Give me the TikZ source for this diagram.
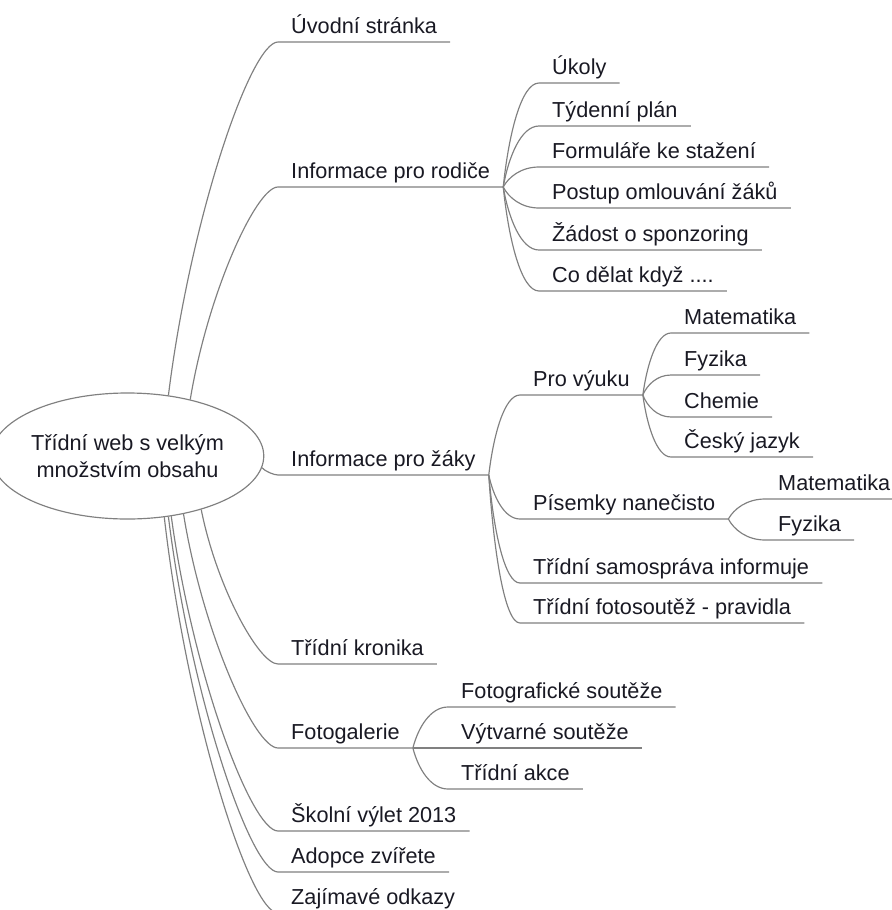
\documentclass[tikz,border=0pt]{standalone}
\usepackage{fontspec}
\setmainfont{Liberation Sans}
\usepackage{xcolor}
\usetikzlibrary{shapes.geometric,calc}

\definecolor{linegray}{RGB}{128,128,128}
\definecolor{ink}{RGB}{25,25,35}

\tikzset{
    leaf/.style={anchor=south west, inner xsep=0.39cm, inner ysep=0.06cm, text depth=0.18cm, text=ink, font=\fontsize{18.5}{22}\selectfont},
    link/.style={draw=linegray, line width=1pt},
    trunk/.style={to path={let \p1=($(\tikztotarget)-(\tikztostart)$) in
        .. controls +(0.2*\x1,0.5*\y1) and +(-0.25*\x1,0) .. (\tikztotarget)}},
    twig/.style={to path={let \p1=($(\tikztotarget)-(\tikztostart)$) in
        .. controls +(0.15*\x1,0.5*\y1) and +(-0.5*\x1,0) .. (\tikztotarget)}}
}

\begin{document}
\begin{tikzpicture}[x=0.03cm, y=-0.03cm]
    \useasboundingbox (0,0) rectangle (892,910);

    % Root
    \node[ellipse, draw=linegray, fill=white, line width=1pt, minimum width=7.05cm, minimum height=3.78cm, inner sep=0pt, align=center, text=ink, font=\fontsize{18.5}{23}\selectfont] (root) at (127.5,456) {Třídní web s velkým\\množstvím obsahu};

    % First level
    \node[leaf] (uvod) at (278,42) {Úvodní stránka};
    \node[leaf] (rodice) at (278,187) {Informace pro rodiče};
    \node[leaf] (zaci) at (278,475) {Informace pro žáky};
    \node[leaf] (kronika) at (278,664) {Třídní kronika};
    \node[leaf] (galerie) at (278,748) {Fotogalerie};
    \node[leaf] (vylet) at (278,831) {Školní výlet 2013};
    \node[leaf] (adopce) at (278,872) {Adopce zvířete};
    \node[leaf] (odkazy) at (278,913) {Zajímavé odkazy};

    % Parents
    \node[leaf] (ukoly) at (539,83) {Úkoly};
    \node[leaf] (plan) at (539,126) {Týdenní plán};
    \node[leaf] (formulare) at (539,167) {Formuláře ke stažení};
    \node[leaf] (omluvy) at (539,208) {Postup omlouvání žáků};
    \node[leaf] (sponzor) at (539,250) {Žádost o sponzoring};
    \node[leaf] (codelat) at (539,291) {Co dělat když ....};

    % Pupils
    \node[leaf] (vyuka) at (520,395) {Pro výuku};
    \node[leaf] (pisemky) at (520,519) {Písemky nanečisto};
    \node[leaf] (samosprava) at (520,583) {Třídní samospráva informuje};
    \node[leaf] (fotosoutez) at (520,623) {Třídní fotosoutěž - pravidla};

    \node[leaf] (matematika) at (671,333) {Matematika};
    \node[leaf] (fyzika) at (671,375) {Fyzika};
    \node[leaf] (chemie) at (671,417) {Chemie};
    \node[leaf] (cestina) at (671,457) {Český jazyk};

    \node[leaf] (pmatematika) at (765,499) {Matematika};
    \node[leaf] (pfyzika) at (765,540) {Fyzika};

    % Gallery
    \node[leaf] (fotosouteze) at (448,707) {Fotografické soutěže};
    \node[leaf] (vytvarne) at (448,748) {Výtvarné soutěže};
    \node[leaf] (akce) at (448,789) {Třídní akce};

    % Links from the root
    \draw[link] (root.56) to[trunk] (uvod.south west) -- (uvod.south east);
    \draw[link] (root.42) to[trunk] (rodice.south west) -- (rodice.south east);
    \draw[link] (root.-5) to[trunk] (zaci.south west) -- (zaci.south east);
    \draw[link] (root.-36) to[trunk] (kronika.south west) -- (kronika.south east);
    \draw[link] (root.-46) to[trunk] (galerie.south west) -- (galerie.south east);
    \draw[link] (root.-54) to[trunk] (vylet.south west) -- (vylet.south east);
    \draw[link] (root.-56) to[trunk] (adopce.south west) -- (adopce.south east);
    \draw[link] (root.-59) to[trunk] (odkazy.south west) -- (odkazy.south east);

    % Links for parents
    \foreach \k in {ukoly,plan,formulare,omluvy,sponzor,codelat}
        \draw[link] (rodice.south east) to[twig] (\k.south west) -- (\k.south east);

    % Links for pupils
    \foreach \k in {vyuka,pisemky,samosprava,fotosoutez}
        \draw[link] (zaci.south east) to[twig] (\k.south west) -- (\k.south east);
    \foreach \k in {matematika,fyzika,chemie,cestina}
        \draw[link] (vyuka.south east) to[twig] (\k.south west) -- (\k.south east);
    \foreach \k in {pmatematika,pfyzika}
        \draw[link] (pisemky.south east) to[twig] (\k.south west) -- (\k.south east);

    % Links for gallery
    \foreach \k in {fotosouteze,vytvarne,akce}
        \draw[link] (galerie.south east) to[twig] (\k.south west) -- (\k.south east);
\end{tikzpicture}
\end{document}
